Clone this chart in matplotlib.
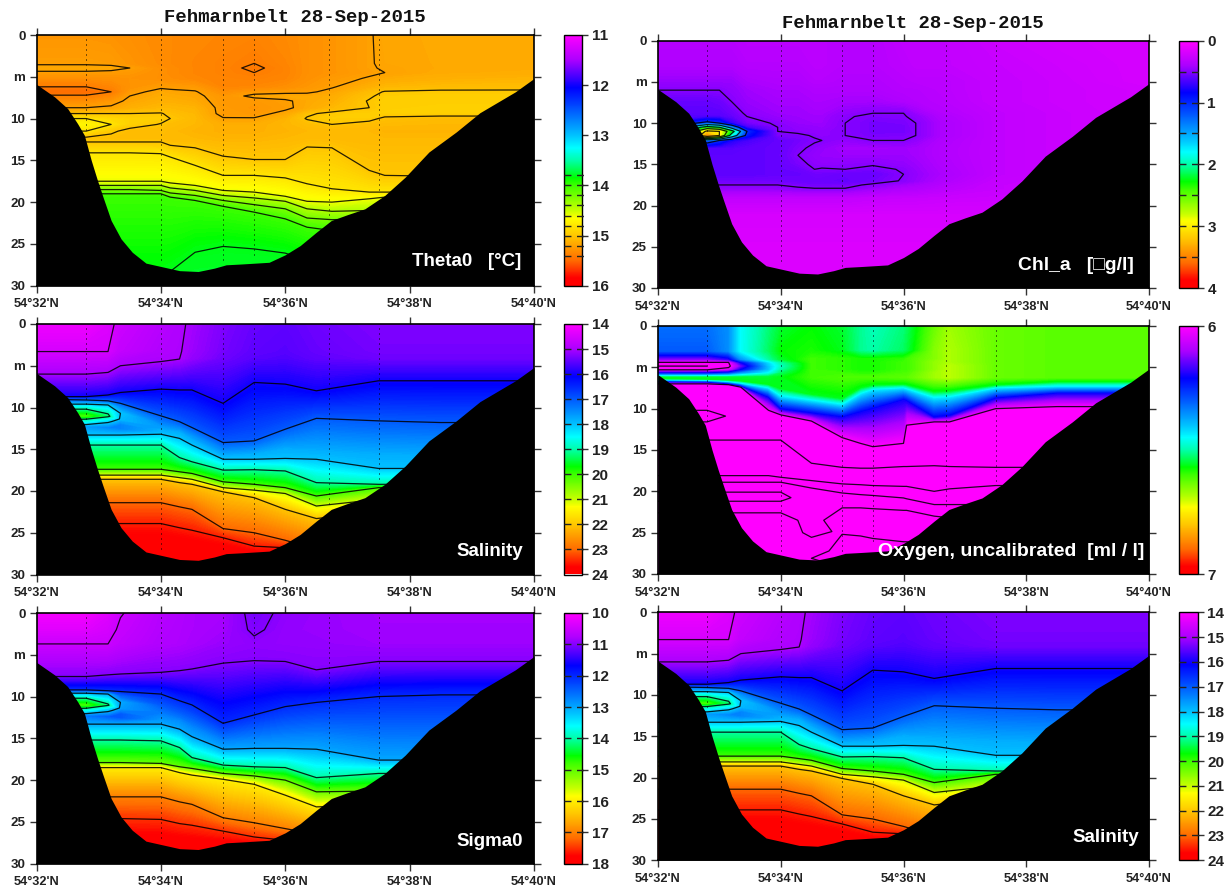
import numpy as np
import matplotlib
matplotlib.use("Agg")
import matplotlib.pyplot as plt
from matplotlib.colors import LinearSegmentedColormap, Normalize
from matplotlib.cm import ScalarMappable

# ---------------- shared ----------------
lat_ticks = [32, 34, 36, 38, 40]
lat_labels = ["54°32'N", "54°34'N", "54°36'N", "54°38'N", "54°40'N"]
depth_ticks = [0, 5, 10, 15, 20, 25, 30]
depth_labels = ["0", "m", "10", "15", "20", "25", "30"]
title_text = "Fehmarnbelt 28-Sep-2015"

bottom_lat = [32.0, 32.29, 32.5, 32.66, 32.77, 32.88, 32.98, 33.07, 33.2, 33.36, 33.54, 33.76, 34.0, 34.3, 34.6,
              34.86, 35.05, 35.3, 35.74, 36.0, 36.24, 36.5, 36.74, 37.0, 37.28, 37.6, 37.93, 38.31, 38.75, 39.13,
              39.7, 40.0]
bottom_depth = [5.9, 7.4, 8.8, 10.6, 12.0, 15.0, 17.4, 19.4, 22.2, 24.4, 26.0, 27.3, 27.7, 28.2, 28.3,
                27.9, 27.5, 27.4, 27.2, 26.3, 25.2, 23.6, 22.2, 21.5, 20.8, 19.2, 17.0, 14.0, 11.6, 9.3,
                6.8, 5.2]
station_lat = [32.8, 34.0, 35.0, 35.5, 36.7, 37.5]
station_depth = [11.5, 27.2, 27.3, 26.5, 22.0, 19.0]

# ---------------- salinity ----------------
sal_lat = [32.0, 32.8, 33.15, 33.35, 34.0, 34.3, 34.5, 35.0, 35.5, 36.0, 36.5, 37.5, 38.5, 40.0]
sal_depth = [
    [0]*14,
    [3.3]*14,
    [6, 6, 5.8, 5, 4.5, 4.2, 4.2, 4.2, 4.2, 4.2, 4.2, 4.2, 4.2, 4.2],
    [8.7, 8.7, 8.5, 8.2, 7.8, 7.9, 7.9, 9.5, 7.0, 7.2, 8.0, 6.8, 6.8, 6.8],
    [9.0, 9.1, 9.2, 9.5, 11, 11.7, 12.4, 14.2, 14, 12.6, 11.3, 11.6, 11.8, 11.8],
    [9.6, 9.6, 9.7, 10, 11.4, 12.1, 12.8, 14.6, 14.4, 13.2, 12.2, 12.6, 12.8, 12.8],
    [10.2, 10.2, 10.4, 10.7, 11.9, 12.4, 13.1, 15, 14.8, 13.8, 13.2, 13.6, 13.8, 13.8],
    [11, 11, 11, 11.4, 12.3, 12.7, 13.5, 15.4, 15.2, 14.4, 14.2, 14.6, 14.8, 14.8],
    [11.5, 11.4, 11.5, 12, 12.7, 13, 13.9, 15.8, 15.6, 15, 15.2, 15.6, 15.8, 15.8],
    [12.3, 12.3, 12.4, 12.6, 13, 13.3, 14.2, 16, 15.9, 15.6, 15.7, 16.5, 16.6, 16.6],
    [13.3, 13.3, 13.3, 13.3, 13.2, 13.7, 14.5, 16.2, 16.2, 16.1, 16.2, 17.3, 17.3, 17.3],
    [14.5, 14.5, 14.5, 14.5, 14.5, 16, 16.5, 17.5, 17.45, 17.6, 19, 19.2, 19.2, 19.2],
    [17.4, 17.4, 17.4, 17.4, 17.4, 17.7, 17.9, 18.9, 19.2, 19.6, 20.6, 19.6, 19.7, 19.7],
    [18.1, 18.1, 18.1, 18.1, 18.1, 18.4, 18.6, 19.6, 19.9, 20.3, 21.8, 21, 21, 21],
    [18.6, 18.6, 18.6, 18.6, 18.6, 19, 19.2, 20.1, 20.8, 22.2, 23.3, 22.5, 22.5, 22.5],
    [21.4, 21.4, 21.4, 21.4, 21.4, 21.9, 22.2, 24.5, 25, 25.9, 27, 25, 25, 25],
    [23.9, 23.9, 23.9, 23.9, 23.9, 24.4, 24.7, 25.6, 26.6, 26.8, 28, 27, 27, 27],
    [26.5, 26.5, 26.5, 26.5, 26.5, 26.8, 27, 27.5, 28, 28, 28.5, 28, 28, 28],
    [30]*14,
]
sal_value = [
    [14.2, 14.2, 14.4, 14.6, 14.85, 14.95, 15.05, 15.3, 15.45, 15.5, 15.4, 15.3, 15.3, 15.3],
    [14.5, 14.5, 14.5, 14.72, 14.93, 14.98, 15.1, 15.35, 15.5, 15.55, 15.45, 15.35, 15.35, 15.35],
    [15, 15, 15, 15, 15, 15, 15.15, 15.4, 15.55, 15.6, 15.5, 15.4, 15.4, 15.4],
    [16]*14,
    [17]*14,
    [18, 18, 18, 17.5, 17.2, 17.2, 17.2, 17.2, 17.2, 17.2, 17.2, 17.2, 17.2, 17.2],
    [19, 19, 18.7, 18, 17.4, 17.4, 17.4, 17.4, 17.4, 17.4, 17.4, 17.4, 17.4, 17.4],
    [20, 20, 19.2, 17.9, 17.6, 17.6, 17.6, 17.6, 17.6, 17.6, 17.6, 17.6, 17.6, 17.6],
    [19, 19, 18.3, 17.4, 17.8, 17.8, 17.8, 17.8, 17.8, 17.8, 17.8, 17.8, 17.8, 17.8],
    [17.6, 17.6, 17.4, 17.4, 17.9, 17.9, 17.9, 17.9, 17.9, 17.9, 17.9, 17.9, 17.9, 17.9],
    [18]*14, [19]*14, [20]*14, [21]*14, [22]*14, [23]*14, [23.5]*14, [23.9]*14, [24]*14,
]
sal_lines = [14.5, 15, 16, 17, 18, 19, 20, 21, 22, 23, 23.5]
sal_bar_lines = [15, 16, 17, 18, 19, 20, 21, 22, 23]
sal_bar_ticks = [14, 15, 16, 17, 18, 19, 20, 21, 22, 23, 24]

# ---------------- sigma0 ----------------
sig_lat = sal_lat
sig_depth = [
    [0]*14,
    [2]*14,
    [3.7]*14,
    [7.6, 7.6, 7.4, 7.3, 7.1, 6.9, 6.7, 6, 5.7, 5.8, 6.8, 5.8, 5.8, 5.8],
    [9.2, 9.2, 9.3, 9.4, 9.7, 10.5, 11, 13.2, 12.2, 11.2, 10.7, 10, 9.8, 9.8],
    [9.6, 9.6, 9.7, 10, 10.4, 11.2, 11.8, 13.8, 13, 12.2, 11.8, 11.5, 11.4, 11.4],
    [10.2, 10.2, 10.4, 10.7, 11.1, 11.9, 12.5, 14.4, 13.8, 13.2, 12.9, 13, 13, 13],
    [11, 11, 11, 11.4, 11.8, 12.5, 13.2, 15, 14.6, 14.2, 14, 14.5, 14.6, 14.6],
    [11.5, 11.4, 11.5, 12, 12.5, 13, 13.9, 15.6, 15.4, 15.2, 15.1, 16, 16.2, 16.2],
    [12.3, 12.3, 12.4, 12.6, 12.9, 13.5, 14.4, 16, 15.9, 15.8, 15.8, 16.9, 17, 17],
    [13.3, 13.3, 13.3, 13.3, 13.3, 13.9, 14.8, 16.3, 16.2, 16.2, 16.3, 17.6, 17.6, 17.6],
    [15.2, 15.2, 15.2, 15.2, 15.3, 16.1, 17.3, 18.2, 18.4, 18.5, 19.7, 19.2, 19.2, 19.2],
    [17.9, 17.9, 17.9, 17.9, 18, 18.4, 18.6, 19.2, 19.5, 20, 21.4, 21.3, 21.3, 21.3],
    [18.5, 18.5, 18.5, 18.5, 18.5, 19.1, 19.4, 19.9, 20.5, 21.8, 23.2, 23, 23, 23],
    [22, 22, 22, 22, 22, 22.6, 22.9, 24.5, 25.1, 25.8, 26.5, 25, 25, 25],
    [24.6, 24.6, 24.6, 24.6, 24.7, 25.2, 25.4, 26.1, 26.8, 27.2, 27.5, 27, 27, 27],
    [27.5, 27.5, 27.5, 27.5, 27.5, 27.7, 27.8, 28, 28, 28, 28, 28, 28, 28],
    [30]*14,
]
sig_value = [
    [10.1, 10.1, 10.3, 10.48, 10.7, 10.75, 10.8, 10.82, 11.08, 10.95, 10.9, 10.85, 10.85, 10.85],
    [10.3, 10.3, 10.4, 10.55, 10.72, 10.77, 10.8, 10.85, 11.04, 10.92, 10.9, 10.86, 10.86, 10.86],
    [10.5, 10.5, 10.5, 10.6, 10.75, 10.78, 10.82, 10.9, 10.95, 10.93, 10.92, 10.88, 10.88, 10.88],
    [11]*14,
    [12]*14,
    [13, 13, 13, 12.5, 12.2, 12.2, 12.2, 12.2, 12.2, 12.2, 12.2, 12.2, 12.2, 12.2],
    [14, 14, 13.6, 13, 12.4, 12.4, 12.4, 12.4, 12.4, 12.4, 12.4, 12.4, 12.4, 12.4],
    [14.8, 14.8, 14.1, 12.9, 12.6, 12.6, 12.6, 12.6, 12.6, 12.6, 12.6, 12.6, 12.6, 12.6],
    [14, 14, 13.3, 12.4, 12.8, 12.8, 12.8, 12.8, 12.8, 12.8, 12.8, 12.8, 12.8, 12.8],
    [12.6, 12.6, 12.4, 12.4, 12.9, 12.9, 12.9, 12.9, 12.9, 12.9, 12.9, 12.9, 12.9, 12.9],
    [13]*14, [14]*14, [15]*14, [16]*14, [17]*14, [17.5]*14, [17.9]*14, [18]*14,
]
sig_lines = [10.5, 11, 12, 13, 14, 15, 16, 17, 17.5]
sig_bar_lines = [11, 12, 13, 14, 15, 16, 17]
sig_bar_ticks = [10, 11, 12, 13, 14, 15, 16, 17, 18]

# ---------------- theta0 ----------------
the_lat = [32, 32.8, 33.2, 33.5, 34, 34.15, 34.55, 35, 35.5, 36, 36.35, 36.75, 37.35, 37.6, 38.5, 40]
the_depth = [
    [0]*16, [3.4]*16, [3.95]*16, [4.5]*16, [5.2]*16, [6.2]*16, [6.8]*16, [7.3]*16, [7.9]*16, [8.7]*16,
    [9.4]*16, [10]*16, [10.7]*16, [11.5]*16, [12.3]*16,
    [12.8, 12.8, 12.8, 12.8, 12.8, 13.2, 13.5, 14.5, 14.9, 14.9, 13.4, 13.5, 16.2, 16.8, 16.9, 16.9],
    [14.1, 14.1, 14.1, 14.1, 14.2, 14.6, 15.6, 16.8, 16.8, 17.1, 17.8, 18.4, 18.8, 18.8, 18.8, 18.8],
    [17.5, 17.5, 17.5, 17.5, 17.5, 17.7, 18, 18.6, 18.8, 19.3, 19.9, 20, 19.6, 19.4, 19.4, 19.4],
    [18, 18, 18, 18, 18, 18.3, 18.6, 19.2, 19.5, 19.9, 20.8, 21.1, 21, 21, 21, 21],
    [18.5, 18.5, 18.5, 18.5, 18.6, 18.9, 19.2, 19.8, 20.3, 20.8, 21.9, 22.1, 22, 22, 22, 22],
    [19, 19, 19, 19, 19, 19.4, 19.8, 20.5, 21.2, 22, 23, 23.4, 23, 23, 23, 23],
    [29, 29, 29, 29, 29, 28.3, 26, 25.3, 25.6, 26.1, 27, 28, 29, 29, 29, 29],
    [30]*16,
]
the_value = [
    [15.27, 15.27, 15.28, 15.3, 15.33, 15.33, 15.34, 15.35, 15.36, 15.33, 15.3, 15.27, 15.21, 15.17, 15.16, 15.15],
    [15.22, 15.22, 15.23, 15.27, 15.32, 15.33, 15.35, 15.37, 15.4, 15.35, 15.3, 15.27, 15.21, 15.18, 15.16, 15.15],
    [15.15, 15.15, 15.16, 15.2, 15.3, 15.32, 15.35, 15.37, 15.42, 15.36, 15.3, 15.27, 15.21, 15.19, 15.16, 15.15],
    [15.22, 15.22, 15.23, 15.25, 15.3, 15.32, 15.35, 15.37, 15.4, 15.36, 15.3, 15.27, 15.22, 15.2, 15.15, 15.14],
    [15.3, 15.3, 15.29, 15.28, 15.3, 15.31, 15.34, 15.36, 15.37, 15.35, 15.29, 15.24, 15.19, 15.15, 15.12, 15.1],
    [15.4, 15.4, 15.35, 15.28, 15.22, 15.23, 15.24, 15.35, 15.34, 15.3, 15.26, 15.21, 15.12, 15.08, 15.06, 15.05],
    [15.48, 15.48, 15.4, 15.24, 15.16, 15.17, 15.19, 15.3, 15.24, 15.23, 15.22, 15.17, 15.05, 14.99, 14.97, 14.97],
    [15.38, 15.38, 15.33, 15.2, 15.14, 15.15, 15.17, 15.26, 15.17, 15.15, 15.16, 15.14, 15.02, 14.96, 14.95, 14.95],
    [15.3, 15.3, 15.25, 15.17, 15.12, 15.12, 15.15, 15.25, 15.25, 15.22, 15.16, 15.12, 14.99, 14.95, 14.95, 14.95],
    [15.2, 15.2, 15.18, 15.12, 15.08, 15.08, 15.1, 15.24, 15.27, 15.23, 15.15, 15.08, 15.0, 14.95, 14.94, 14.94],
    [15.0, 15.0, 15.0, 15.0, 14.99, 15.03, 15.08, 15.24, 15.25, 15.16, 15.02, 14.97, 14.95, 14.94, 14.94, 14.94],
    [14.8, 14.8, 14.88, 14.93, 14.95, 15.0, 15.07, 15.19, 15.19, 15.1, 14.99, 14.96, 14.96, 15.03, 15.06, 15.06],
    [14.7, 14.7, 14.8, 14.93, 15.01, 15.05, 15.08, 15.13, 15.13, 15.09, 15.05, 15.0, 15.05, 15.07, 15.08, 15.08],
    [14.8, 14.8, 14.97, 15.05, 15.05, 15.07, 15.1, 15.12, 15.12, 15.1, 15.08, 15.08, 15.08, 15.1, 15.1, 15.1],
    [15.02, 15.02, 15.04, 15.06, 15.06, 15.08, 15.08, 15.1, 15.1, 15.08, 15.07, 15.07, 15.08, 15.08, 15.08, 15.08],
    [15.0]*16, [14.8]*16, [14.6]*16, [14.4]*16, [14.2]*16, [14.0]*16, [13.8]*16, [13.75]*16,
]
the_lines = [13.8, 14.0, 14.2, 14.4, 14.6, 14.8, 15.0, 15.2, 15.4]
the_bar_lines = the_lines
the_bar_ticks = [11, 12, 13, 14, 15, 16]

# ---------------- chlorophyll ----------------
chl_lat = [32, 32.8, 33.0, 33.2, 33.45, 33.95, 34.28, 34.55, 34.67, 35.05, 35.5, 36.0, 36.2, 36.6, 37.5, 38.5, 40]
chl_depth = [0, 3, 5, 6, 7.4, 8.8, 9.2, 10, 10.5, 11, 11.5, 12.1, 13, 13.9, 15, 15.6, 16.2, 17, 17.5, 17.9, 19, 21, 25, 30]
chl_value = [
    [.35, .35, .35, .35, .33, .33, .33, .33, .33, .35, .35, .30, .30, .30, .25, .22, .20],
    [.38, .38, .38, .38, .35, .35, .35, .33, .33, .35, .35, .32, .30, .30, .27, .24, .20],
    [.45, .45, .45, .45, .40, .38, .38, .35, .35, .37, .37, .34, .33, .33, .28, .25, .20],
    [.50, .50, .50, .47, .43, .40, .40, .38, .38, .38, .38, .35, .35, .33, .28, .25, .22],
    [.58, .58, .56, .50, .45, .42, .42, .40, .40, .42, .42, .38, .36, .34, .28, .25, .22],
    [.60, .60, .60, .56, .48, .44, .44, .42, .42, .47, .50, .50, .44, .36, .30, .26, .22],
    [.62, .62, .62, .58, .50, .45, .44, .43, .43, .49, .52, .51, .47, .38, .30, .26, .22],
    [.65, 1.1, 1.0, .70, .53, .49, .45, .44, .44, .50, .54, .53, .50, .40, .30, .26, .22],
    [.65, 2.2, 2.0, 1.3, .65, .50, .47, .46, .45, .50, .54, .54, .50, .40, .30, .26, .22],
    [.65, 3.1, 3.0, 2.2, 1.0, .50, .48, .47, .47, .50, .54, .54, .50, .40, .30, .26, .22],
    [.65, 3.4, 3.0, 1.8, .90, .52, .52, .49, .47, .50, .53, .52, .50, .40, .30, .26, .22],
    [.65, 1.2, 1.0, .75, .65, .58, .54, .51, .50, .46, .50, .50, .46, .38, .30, .26, .22],
    [.62, .62, .62, .62, .60, .58, .52, .48, .46, .42, .42, .43, .42, .37, .30, .26, .22],
    [.60, .60, .60, .60, .60, .58, .50, .46, .45, .44, .44, .44, .42, .37, .30, .26, .22],
    [.60, .60, .60, .60, .60, .58, .53, .48, .47, .48, .49, .46, .44, .38, .30, .26, .22],
    [.60, .60, .60, .60, .60, .58, .56, .50, .51, .50, .53, .49, .45, .39, .30, .26, .22],
    [.60, .60, .60, .60, .60, .58, .58, .55, .55, .57, .57, .50, .46, .40, .30, .26, .22],
    [.55, .55, .55, .55, .55, .55, .56, .57, .57, .58, .55, .49, .45, .38, .28, .25, .22],
    [.50, .50, .50, .50, .50, .50, .52, .54, .54, .53, .48, .42, .40, .35, .27, .25, .22],
    [.46, .46, .46, .46, .46, .47, .49, .50, .50, .50, .44, .38, .37, .33, .27, .25, .22],
    [.30, .30, .30, .30, .30, .30, .30, .30, .30, .30, .28, .27, .27, .26, .25, .24, .22],
    [.20, .20, .20, .20, .20, .20, .20, .20, .20, .20, .20, .20, .20, .20, .20, .20, .20],
    [.17, .17, .17, .17, .17, .17, .17, .17, .17, .17, .17, .17, .17, .17, .17, .17, .17],
    [.17, .17, .17, .17, .17, .17, .17, .17, .17, .17, .17, .17, .17, .17, .17, .17, .17],
]
chl_lines = [0.5, 1, 1.5, 2, 2.5, 3]
chl_bar_lines = [0.5, 1, 1.5, 2, 2.5, 3, 3.5]
chl_bar_ticks = [0, 1, 2, 3, 4]

# ---------------- oxygen ----------------
oxy_lat = [32, 32.8, 33.15, 33.35, 33.8, 34, 34.5, 35, 35.3, 35.5, 36, 36.05, 36.5, 36.75, 37.5, 38.5, 40]
oxy_depth = [
    [0]*17, [3]*17, [4]*17, [4.4]*17, [4.85]*17, [5.3]*17, [5.7]*17, [6.2]*17,
    [6.35, 6.4, 6.5, 6.6, 7, 7.5, 8.2, 8.7, 7.4, 7.1, 7.0, 7.05, 7.9, 7.8, 7.1, 6.7, 6.7],
    [6.5, 6.55, 6.7, 6.9, 7.5, 8.5, 9, 9.5, 8.2, 7.7, 7.5, 7.6, 8.7, 8.6, 7.5, 7.3, 7.3],
    [6.7, 6.75, 6.95, 7.2, 8.6, 10, 10.5, 11, 10.4, 10, 8.9, 9, 11, 10.8, 8.7, 8.1, 8.1],
    [7, 7, 7.1, 7.4, 10.2, 10.75, 11.5, 13.5, 14.2, 14.6, 14.2, 12, 11.6, 11.6, 10, 9.75, 9.75],
    [10.2, 10.2, 10.2, 10.3, 10.7, 11.1, 12, 13.8, 14.4, 14.8, 14.5, 12.4, 12, 12, 10.5, 10.2, 10.2],
    [10.9, 10.9, 10.9, 11, 11.2, 11.6, 12.8, 14.3, 14.9, 15.2, 15, 13.3, 13, 13, 11.5, 11.5, 11.5],
    [11.6, 11.6, 11.6, 11.7, 11.8, 12.2, 13.6, 14.8, 15.4, 15.6, 15.5, 14.2, 14, 14, 13, 13, 13],
    [12.8, 12.8, 12.8, 12.8, 12.9, 13, 14.8, 15.8, 16.2, 16.4, 16.2, 15.6, 15.4, 15.5, 15, 15, 15],
    [13.8, 13.8, 13.8, 13.8, 13.8, 13.8, 16.6, 17.1, 17.2, 17.2, 17, 17, 16.9, 17, 17.1, 17.1, 17.1],
    [18.1, 18.1, 18.1, 18.1, 18.1, 18.3, 18.7, 19.1, 19.2, 19.3, 19.4, 19.4, 20, 19.7, 19.3, 19.3, 19.3],
    [18.9, 18.9, 18.9, 18.9, 18.9, 18.9, 19.6, 20.2, 20.4, 20.5, 20.8, 20.9, 21.6, 21.6, 21.6, 21.6, 21.6],
    [19.5, 19.5, 19.5, 19.5, 19.5, 19.5, 20, 20.4, 20.55, 20.65, 20.9, 21, 21.7, 21.7, 21.7, 21.7, 21.7],
    [20.1, 20.1, 20.1, 20.1, 20.1, 20.1, 20.4, 20.6, 20.7, 20.8, 21, 21.1, 21.8, 21.8, 21.8, 21.8, 21.8],
    [20.7, 20.7, 20.7, 20.7, 20.7, 20.7, 20.9, 21.1, 21.15, 21.25, 21.4, 21.45, 22, 22, 22, 22, 22],
    [21.2, 21.2, 21.2, 21.2, 21.2, 21.2, 21.4, 21.6, 21.6, 21.7, 21.8, 21.8, 22.2, 22.2, 22.2, 22.2, 22.2],
    [22.6, 22.6, 22.6, 22.6, 22.6, 22.6, 22.6, 22, 22, 22.1, 22.3, 22.3, 23, 23.2, 23.2, 23.2, 23.2],
    [23.5, 23.5, 23.5, 23.5, 23.5, 23.5, 23.5, 23.5, 23.5, 23.6, 23.8, 23.8, 24.2, 24.2, 24.2, 24.2, 24.2],
    [25, 25, 25, 25, 25, 25, 25, 24.8, 25, 25.3, 25.6, 25.6, 26, 26, 26, 26, 26],
    [26.7, 26.7, 26.7, 26.7, 26.7, 26.7, 26.7, 25.2, 25.4, 25.7, 26.1, 26.1, 26.6, 26.6, 26.6, 26.6, 26.6],
    [28, 28, 28, 28, 28, 28, 27.5, 27, 27, 27, 27, 27, 27.5, 27.5, 27.5, 27.5, 27.5],
    [28.1, 28.1, 28.1, 28.1, 28.1, 28.1, 28.1, 28.5, 28.5, 28.5, 28.5, 28.5, 28.5, 28.5, 28.5, 28.5, 28.5],
    [30]*17,
]
oxy_value = [
    [6.32, 6.32, 6.35, 6.45, 6.52, 6.55, 6.57, 6.55, 6.51, 6.49, 6.52, 6.53, 6.63, 6.67, 6.63, 6.62, 6.62],
    [6.3, 6.3, 6.35, 6.45, 6.53, 6.57, 6.58, 6.56, 6.51, 6.5, 6.53, 6.54, 6.65, 6.68, 6.63, 6.62, 6.62],
    [6.12, 6.12, 6.18, 6.35, 6.5, 6.55, 6.6, 6.59, 6.58, 6.58, 6.59, 6.6, 6.65, 6.68, 6.63, 6.62, 6.62],
    [6, 6, 6, 6.2, 6.42, 6.5, 6.6, 6.59, 6.58, 6.58, 6.6, 6.6, 6.66, 6.68, 6.63, 6.62, 6.62],
    [5.95, 5.95, 5.98, 6.12, 6.4, 6.48, 6.6, 6.59, 6.58, 6.58, 6.6, 6.6, 6.66, 6.69, 6.63, 6.62, 6.62],
    [6, 6, 6.03, 6.2, 6.4, 6.5, 6.6, 6.59, 6.58, 6.58, 6.6, 6.6, 6.66, 6.69, 6.63, 6.62, 6.62],
    [6.2, 6.2, 6.25, 6.35, 6.45, 6.53, 6.6, 6.6, 6.59, 6.59, 6.61, 6.61, 6.67, 6.69, 6.63, 6.62, 6.62],
    [6.55, 6.55, 6.55, 6.55, 6.55, 6.56, 6.6, 6.61, 6.61, 6.61, 6.62, 6.62, 6.67, 6.69, 6.63, 6.62, 6.62],
    [6.56]*17,
    [6.43]*17,
    [6.2]*17,
    [6.0]*17,
    [5.95, 5.95, 5.955, 5.98, 5.98, 5.98, 5.98, 5.98, 5.98, 5.98, 5.98, 5.98, 5.98, 5.98, 5.98, 5.98, 5.98],
    [5.92, 5.92, 5.955, 5.97, 5.97, 5.97, 5.97, 5.97, 5.97, 5.97, 5.97, 5.97, 5.97, 5.97, 5.97, 5.97, 5.97],
    [5.95, 5.95, 5.96, 5.97, 5.97, 5.97, 5.97, 5.97, 5.97, 5.97, 5.97, 5.97, 5.97, 5.97, 5.97, 5.97, 5.97],
    [5.97]*17,
    [5.95]*17,
    [5.9]*17,
    [5.85]*17,
    [5.84]*17,
    [5.85, 5.85, 5.85, 5.85, 5.85, 5.85, 5.84, 5.84, 5.84, 5.84, 5.84, 5.84, 5.84, 5.84, 5.84, 5.84, 5.84],
    [5.86, 5.86, 5.86, 5.86, 5.86, 5.855, 5.84, 5.84, 5.84, 5.84, 5.84, 5.84, 5.84, 5.84, 5.84, 5.84, 5.84],
    [5.85, 5.85, 5.85, 5.85, 5.85, 5.85, 5.84, 5.84, 5.84, 5.84, 5.84, 5.84, 5.84, 5.84, 5.84, 5.84, 5.84],
    [5.8, 5.8, 5.8, 5.8, 5.8, 5.8, 5.84, 5.8, 5.8, 5.8, 5.8, 5.8, 5.8, 5.8, 5.8, 5.8, 5.8],
    [5.75, 5.75, 5.75, 5.75, 5.75, 5.75, 5.84, 5.74, 5.74, 5.74, 5.74, 5.74, 5.74, 5.74, 5.74, 5.74, 5.74],
    [5.75, 5.75, 5.75, 5.75, 5.75, 5.75, 5.82, 5.79, 5.79, 5.79, 5.79, 5.79, 5.79, 5.79, 5.79, 5.79, 5.79],
    [5.75, 5.75, 5.75, 5.75, 5.75, 5.75, 5.76, 5.8, 5.8, 5.8, 5.8, 5.8, 5.8, 5.8, 5.8, 5.8, 5.8],
    [5.75, 5.75, 5.75, 5.75, 5.75, 5.75, 5.76, 5.83, 5.83, 5.83, 5.83, 5.83, 5.83, 5.83, 5.83, 5.83, 5.83],
    [5.75, 5.75, 5.75, 5.75, 5.75, 5.75, 5.8, 5.85, 5.85, 5.85, 5.85, 5.85, 5.85, 5.85, 5.85, 5.85, 5.85],
    [5.75]*17,
]
oxy_lines = [5.8, 5.85, 5.9, 5.95, 6.0]
oxy_bar_ticks = [6, 7]

# ---------------- drawing ----------------
W, H = 1225, 890
cmap = LinearSegmentedColormap.from_list("odv", [
    (0.00, (1.00, 0.00, 1.00)), (0.10, (0.67, 0.00, 1.00)), (0.21, (0.00, 0.00, 1.00)),
    (0.30, (0.00, 0.35, 1.00)), (0.40, (0.00, 0.76, 1.00)), (0.45, (0.00, 1.00, 1.00)),
    (0.50, (0.00, 1.00, 0.67)), (0.57, (0.00, 1.00, 0.00)), (0.60, (0.24, 1.00, 0.00)),
    (0.70, (0.78, 1.00, 0.00)), (0.73, (1.00, 1.00, 0.00)), (0.80, (1.00, 0.78, 0.00)),
    (0.90, (1.00, 0.42, 0.00)), (0.97, (1.00, 0.00, 0.00)), (1.00, (1.00, 0.00, 0.00))], N=512)

TICK = ['Liberation Sans', 'DejaVu Sans']
fig = plt.figure(figsize=(W / 100, H / 100), dpi=100, facecolor='white')


def rect(x0, y0, x1, y1):
    return [x0 / W, 1 - y1 / H, (x1 - x0) / W, (y1 - y0) / H]


def panel(box, barbox, lat, depth, value, vmin, vmax, lines, bar_lines, bar_ticks, label, label_right, label_y,
          label_size=13.5):
    lat = np.asarray(lat, float)
    value = np.asarray(value, float)
    depth = np.asarray(depth, float)
    if depth.ndim == 1:
        depth = np.tile(depth[:, None], (1, lat.size))
    grid_lat = np.tile(lat, (depth.shape[0], 1))
    ax = fig.add_axes(rect(*box))
    fine = np.linspace(vmin, vmax, 300)
    ax.contourf(grid_lat, depth, value, levels=fine, cmap=cmap, extend='both', antialiased=False)
    ax.contour(grid_lat, depth, value, levels=lines, colors='black', linewidths=0.9, alpha=0.85)
    ax.fill_between(bottom_lat, bottom_depth, 30, color='black', lw=0, zorder=3)
    for s, d in zip(station_lat, station_depth):
        ax.plot([s, s], [0.5, d], color='black', lw=0.72, ls=(0, (1, 4)), zorder=4)
    ax.set_xlim(32, 40)
    ax.set_ylim(30, 0)
    ax.set_xticks(lat_ticks, lat_labels, family=TICK, fontsize=9.2, fontweight='bold')
    ax.set_yticks(depth_ticks, depth_labels, family=TICK, fontsize=9.6, fontweight='bold')
    ax.tick_params(axis='both', length=5, width=1, color='#333333', labelcolor='#222222', top=True, right=True, pad=3)
    ax.tick_params(axis='x', pad=4)
    for sp in ax.spines.values():
        sp.set_linewidth(1.2)
    ax.text(label_right, label_y, label, transform=fig.transFigure, ha='right', va='center', color='white',
            family=TICK, fontsize=label_size, fontweight='bold', zorder=6)

    cax = fig.add_axes(rect(*barbox))
    sm = ScalarMappable(norm=Normalize(vmin, vmax), cmap=cmap)
    cb = fig.colorbar(sm, cax=cax, ticks=bar_ticks)
    cb.outline.set_linewidth(1.0)
    cax.set_ylim(vmax, vmin)
    cax.tick_params(axis='y', length=4, width=1, color='#333333', pad=3)
    cax.set_yticklabels([str(t) for t in bar_ticks], family=TICK, fontsize=11, fontweight='bold', color='#222222')
    for v in bar_lines:
        cax.plot([0, 1.1], [v, v], color='#222222', lw=1.0, ls=(0, (5, 4)), clip_on=False, zorder=5,
                 transform=cax.get_yaxis_transform())
    return ax


LX = (36.5, 534)
RX = (658, 1149)
LB = (563.5, 582)
RB = (1179.3, 1197.7)

panel((LX[0], 35, LX[1], 285.7), (LB[0], 35, LB[1], 285.7), the_lat, the_depth, the_value, 11, 16,
      the_lines, the_bar_lines, the_bar_ticks, "Theta0   [°C]", 521 / W, 1 - 262 / H)
panel((LX[0], 324, LX[1], 574.5), (LB[0], 324, LB[1], 574.5), sal_lat, sal_depth, sal_value, 14, 24,
      sal_lines, sal_bar_lines, sal_bar_ticks, "Salinity", 523 / W, 1 - 551 / H)
panel((LX[0], 613, LX[1], 863.7), (LB[0], 613, LB[1], 863.7), sig_lat, sig_depth, sig_value, 10, 18,
      sig_lines, sig_bar_lines, sig_bar_ticks, "Sigma0", 523 / W, 1 - 841 / H)
panel((RX[0], 40.7, RX[1], 288), (RB[0], 40.7, RB[1], 288), chl_lat, chl_depth, chl_value, 0, 4,
      chl_lines, chl_bar_lines, chl_bar_ticks, "Chl_a   [□g/l]", 1134 / W, 1 - 265 / H, 13.9)
panel((RX[0], 326, RX[1], 574), (RB[0], 326, RB[1], 574), oxy_lat, oxy_depth, oxy_value, 6, 7,
      oxy_lines, [], oxy_bar_ticks, "Oxygen, uncalibrated  [ml / l]", 1144 / W, 1 - 551 / H, 14)
panel((RX[0], 612.3, RX[1], 860.3), (RB[0], 612.3, RB[1], 860.3), sal_lat, sal_depth, sal_value, 14, 24,
      sal_lines, sal_bar_lines, sal_bar_ticks, "Salinity", 1139 / W, 1 - 837 / H)

fig.text(295 / W, 1 - 17 / H, title_text, family=['Liberation Mono', 'DejaVu Sans Mono'], fontweight='bold',
         fontsize=13.7, ha='center', va='center', color='#111111')
fig.text(913 / W, 1 - 23 / H, title_text, family=['Liberation Mono', 'DejaVu Sans Mono'], fontweight='bold',
         fontsize=13.7, ha='center', va='center', color='#111111')

fig.savefig("out.png", dpi=100, facecolor='white')
